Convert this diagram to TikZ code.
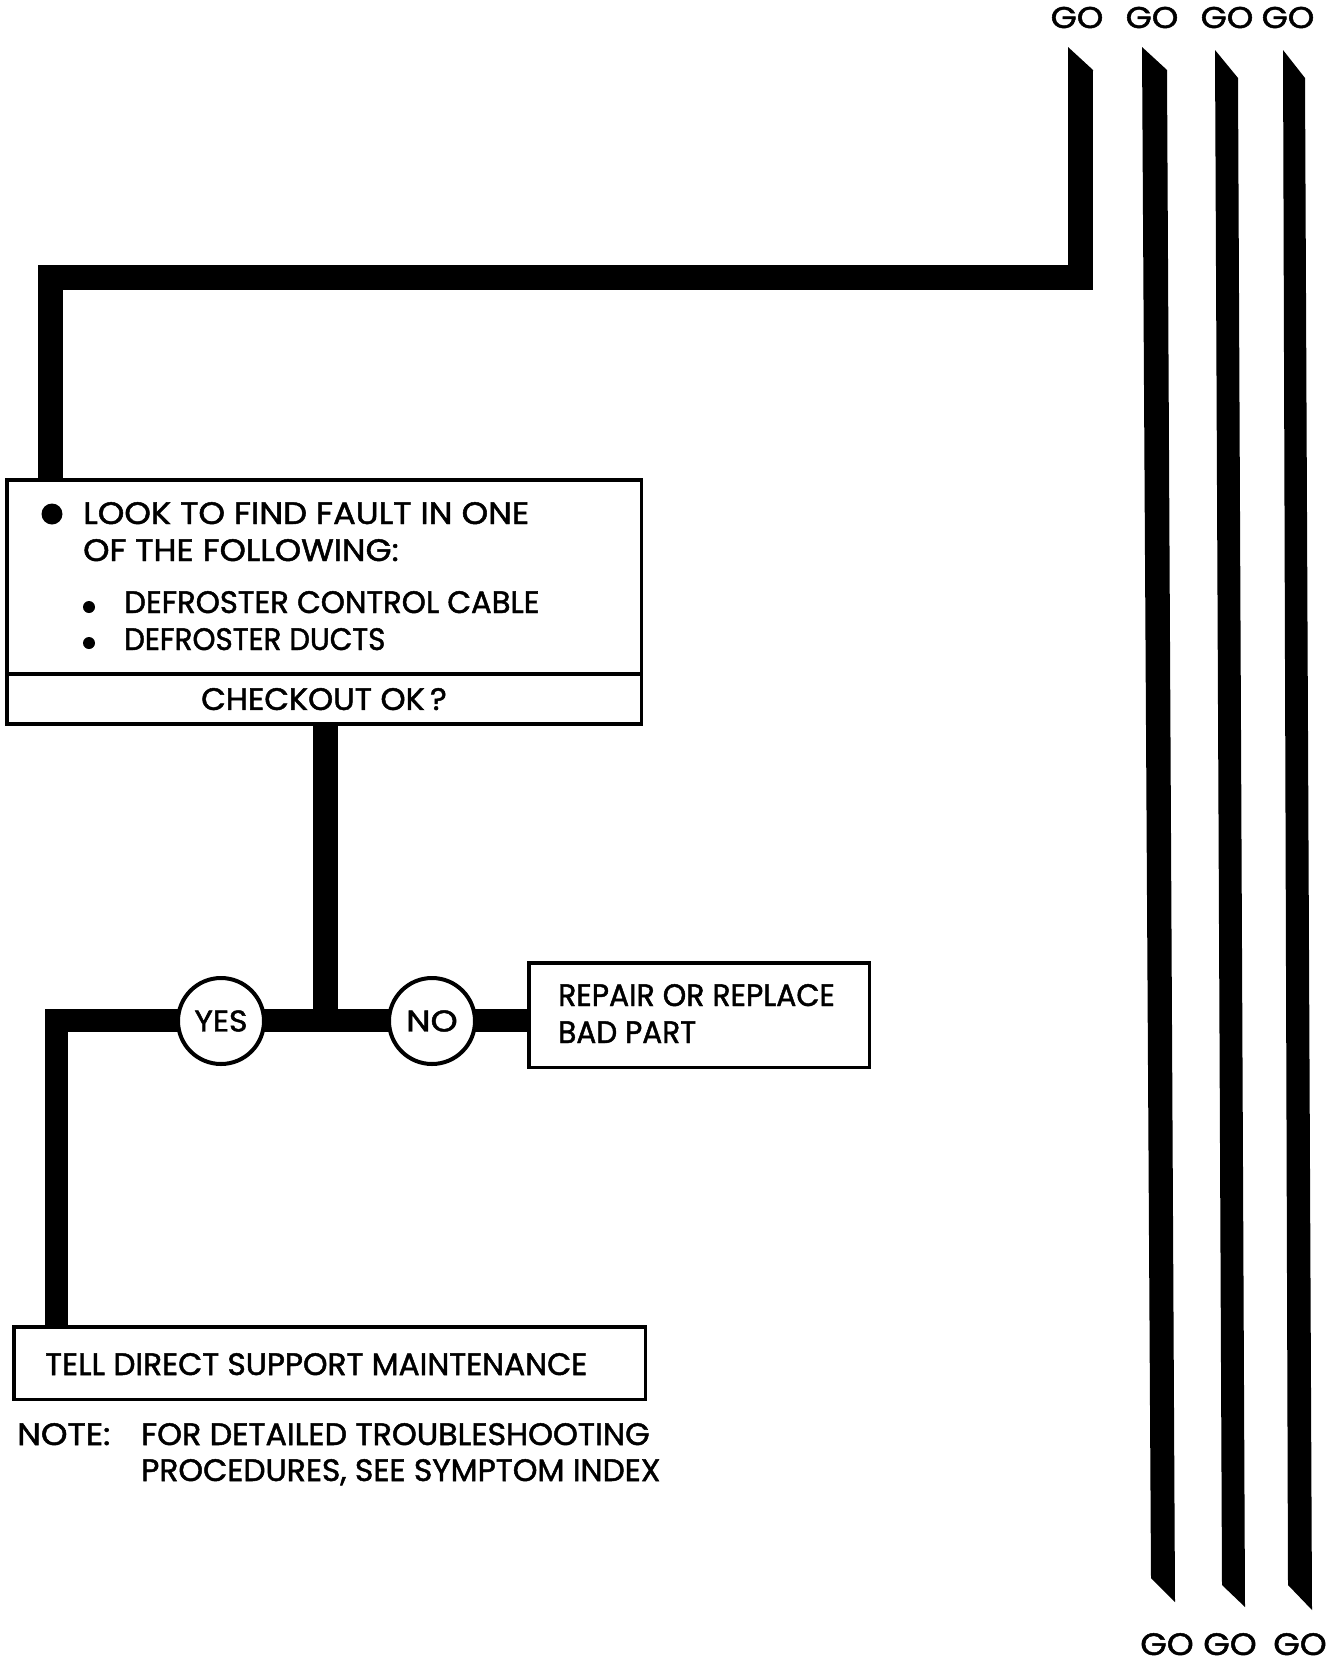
\documentclass[tikz,border=0pt]{standalone}
\usepackage{graphicx}
\usepackage{fontspec}
\setmainfont{Poppins}[FakeBold=1.5]
\newcommand{\hs}[2]{\scalebox{#1}[1]{#2}}
\begin{document}
\begin{tikzpicture}[x=1pt,y=-1pt,
  box/.style={draw, line width=3.5pt, inner sep=0pt},
  txt/.style={anchor=base west, inner sep=0pt, font=\fontsize{31}{36}\selectfont},
  golabel/.style={anchor=base, inner sep=0pt, font=\fontsize{30}{34}\selectfont},
  gobot/.style={anchor=base, inner sep=0pt, font=\fontsize{31}{34}\selectfont},
  ans/.style={circle, draw, line width=4pt, fill=white, minimum size=86pt, inner sep=0pt, font=\fontsize{30}{34}\selectfont},
  flow/.style={line width=25pt, line join=miter},
  lowflow/.style={line width=23pt, line join=miter},
  dotbig/.style={circle, fill, inner sep=0pt, minimum size=21pt},
  dotsmall/.style={circle, fill, inner sep=0pt, minimum size=12pt},
]
\useasboundingbox[fill=white] (0,0) rectangle (1331,1665);

% ---- GO labels ----
\node[golabel] (gt1) at (1077,28) {\hs{1.12}{GO}};
\node[golabel] (gt2) at (1152,28) {\hs{1.12}{GO}};
\node[golabel] (gt3) at (1227,28) {\hs{1.12}{GO}};
\node[golabel] (gt4) at (1288,28) {\hs{1.12}{GO}};
\node[gobot] (gb2) at (1167,1655) {\hs{1.1}{GO}};
\node[gobot] (gb3) at (1230,1655) {\hs{1.1}{GO}};
\node[gobot] (gb4) at (1300,1655) {\hs{1.1}{GO}};

% ---- long GO bars ----
\fill (1142,47) -- (1167,70) -- (1175,1602) -- (1151,1578) -- cycle;
\fill (1215,50) -- (1238,78) -- (1245,1607) -- (1222,1585) -- cycle;
\fill (1283,50) -- (1305,78) -- (1312,1610) -- (1288,1585) -- cycle;

% ---- boxes ----
\node[box, minimum width=634.5pt, minimum height=194.25pt] (look) at (324,576.9) {};
\node[box, minimum width=634.5pt, minimum height=50.25pt, font=\fontsize{31}{36}\selectfont] (check) at (324,699.1) {\raisebox{-2pt}{\hs{1.03}{CHECKOUT OK\,?}}};
\node[box, minimum width=340.5pt, minimum height=104.5pt] (repair) at (699,1015) {};
\node[box, minimum width=631.5pt, minimum height=72.5pt] (tell) at (329.5,1363) {};

% ---- box texts ----
\node[dotbig] (b0) at (52,514) {};
\node[txt] (l1) at (83,524) {\hs{1.09}{LOOK TO FIND FAULT IN ONE}};
\node[txt] (l2) at (83,561) {\hs{1.08}{OF THE FOLLOWING:}};
\node[dotsmall] (b1) at (89,607) {};
\node[txt] (l3) at (124,613) {\hs{0.99}{DEFROSTER CONTROL CABLE}};
\node[dotsmall] (b2) at (89,643) {};
\node[txt] (l4) at (124,650) {\hs{0.945}{DEFROSTER DUCTS}};
\node[txt] (r1) at (558,1006) {\hs{0.965}{REPAIR OR REPLACE}};
\node[txt] (r2) at (558,1043) {\hs{0.955}{BAD PART}};
\node[txt] (t1) at (45,1375) {\hs{1.007}{TELL DIRECT SUPPORT MAINTENANCE}};
\node[txt] (n0) at (17,1445) {\hs{1.09}{NOTE:}};
\node[txt] (n1) at (141,1445) {\hs{1.022}{FOR DETAILED TROUBLESHOOTING}};
\node[txt] (n2) at (141,1481) {\hs{1.012}{PROCEDURES, SEE SYMPTOM INDEX}};

% ---- top connector ----
\coordinate (g1end) at (1080.5,70);
\coordinate (c1) at (1080.5,277.5);
\coordinate (c2) at (50,277.5);
\draw[flow] (g1end) -- (c1) -- (c2) -- (c2 |- look.north);
\fill (1068,47) -- (1093,70) -- (1093,71) -- (1068,71) -- cycle;

% ---- decision connectors ----
\coordinate (jn) at (325,1020);
\coordinate (lc) at (56.5,1020);
\draw[flow] (check.south -| jn) -- (jn);
\draw[lowflow] (tell.north -| lc) -- (lc) -- (repair.west |- lc);

\node[ans] (yes) at (221,1021) {\hs{1.05}{YES}};
\node[ans] (no) at (432,1021) {\hs{1.15}{NO}};
\end{tikzpicture}
\end{document}
